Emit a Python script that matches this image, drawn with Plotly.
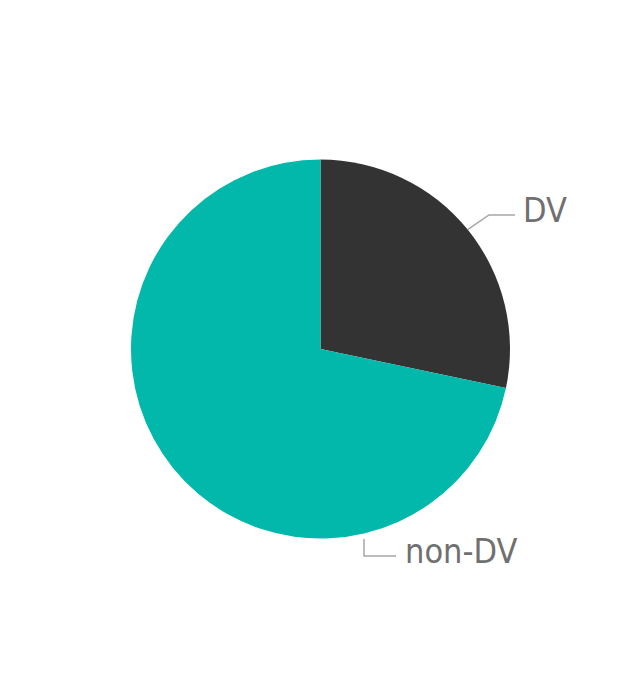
import math
import plotly.graph_objects as go

categories = ["DV", "non-DV"]
values = [28.3, 71.7]
colors = ["#333333", "#01B8AA"]

# page has an 8px body margin; the figure sits inside it
OFF = 8
W, H = 618 - 2 * OFF, 689 - 2 * OFF
CX, CY, R = 320.5, 349.0, 189.5


def px(x):
    return (x - OFF) / W


def py(y):
    return 1 - (y - OFF) / H


fig = go.Figure(go.Pie(
    labels=categories,
    values=values,
    marker=dict(colors=colors, line=dict(width=0)),
    sort=False,
    direction="clockwise",
    rotation=0,
    textinfo="none",
    hoverinfo="label+percent",
    showlegend=False,
    domain=dict(x=[px(CX - R), px(CX + R)], y=[py(CY + R), py(CY - R)]),
))

# leader line for DV: starts at slice mid-angle on the rim
mid = values[0] / sum(values) * 360 / 2
sx = CX + R * math.sin(math.radians(mid))
sy = CY - R * math.cos(math.radians(mid))
line_style = dict(color="#a6a6a6", width=1.5)
shapes = [
    dict(type="path", xref="paper", yref="paper",
         path=f"M {px(sx)},{py(sy)} L {px(489)},{py(215)} L {px(515)},{py(215)}",
         line=line_style),
    dict(type="path", xref="paper", yref="paper",
         path=f"M {px(364)},{py(539)} L {px(364)},{py(556)} L {px(396)},{py(556)}",
         line=line_style),
]

font = dict(family="DejaVu Sans Condensed, Liberation Sans Narrow, sans-serif", size=34, color="#707070")
annotations = [
    dict(text=categories[0], x=px(521), y=py(210), xref="paper", yref="paper",
         xanchor="left", yanchor="middle", showarrow=False, font=font),
    dict(text=categories[1], x=px(403), y=py(551), xref="paper", yref="paper",
         xanchor="left", yanchor="middle", showarrow=False, font=font),
]

fig.update_layout(
    width=W, height=H,
    margin=dict(l=0, r=0, t=0, b=0),
    paper_bgcolor="white",
    plot_bgcolor="white",
    shapes=shapes,
    annotations=annotations,
)

fig.write_html("out.html")
